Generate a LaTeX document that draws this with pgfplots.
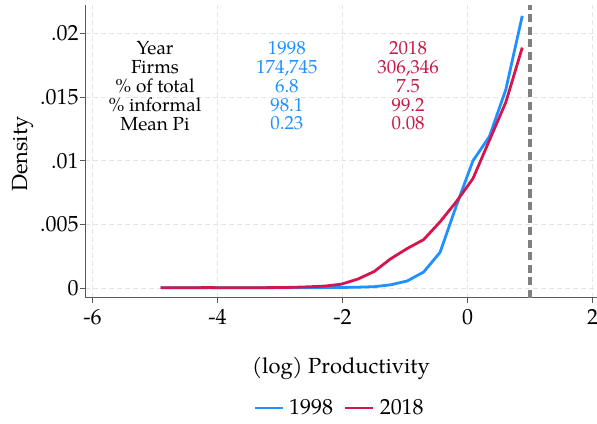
\documentclass[border=0pt]{standalone}
\usepackage{pgfplots}
\pgfplotsset{compat=1.18}
\usepackage{fontspec}
\setmainfont{TeX Gyre Pagella}
\usetikzlibrary{calc}
\definecolor{cblue}{RGB}{30,144,255}
\definecolor{cred}{RGB}{212,22,78}
\definecolor{ctxtred}{RGB}{200,25,70}
\begin{document}
\begin{tikzpicture}
\begin{axis}[
  scale only axis, width=512bp, height=292.5bp,
  xmin=-6.12, xmax=2.072, ymin=-0.00075, ymax=0.02225,
  axis lines=left,
  axis line style={black!65, -, line width=0.8bp},
  tick style={black!65, line width=0.8bp},
  tick align=outside, major tick length=5bp,
  xtick={-6,-4,-2,0,2}, xticklabels={-6,-4,-2,0,2},
  ytick={0,0.005,0.01,0.015,0.02}, yticklabels={0,.005,.01,.015,.02},
  scaled y ticks=false,
  ticklabel style={font=\fontsize{22}{22}\selectfont},
  xticklabel style={yshift=-3bp},
  yticklabel style={xshift=2bp},
  grid=major,
  major grid style={dash pattern=on 5bp off 3bp, black!10, line width=0.8bp},
  xlabel={(log) Productivity},
  ylabel={Density},
  label style={font=\fontsize{22}{22}\selectfont},
  xlabel style={at={(axis description cs:0.5,0)}, anchor=center, yshift=-71bp},
  ylabel style={at={(axis description cs:-0.122,0.49)}, anchor=center},
  legend style={at={(axis description cs:0.5,0)}, anchor=center, yshift=-110.5bp,
    draw=none, fill=none, font=\fontsize{22}{22}\selectfont,
    nodes={inner xsep=5bp},
    /tikz/every even column/.append style={column sep=6bp}},
  legend columns=2,
  legend image code/.code={\draw[#1] (0bp,0bp) -- (28bp,0bp);},
  every axis plot/.append style={line width=2.8bp, line join=round},
]
\addplot[cblue] coordinates {
(-4.910,0.00001) (-4.647,0.00001) (-4.384,0.00001) (-4.121,0.00001)
(-3.858,0.00001) (-3.595,0.00001) (-3.332,0.00001) (-3.069,0.00001)
(-2.806,0.00001) (-2.543,0.00002) (-2.280,0.00003) (-2.017,0.00004)
(-1.754,0.00006) (-1.491,0.00010) (-1.228,0.00025) (-0.965,0.00055)
(-0.702,0.00125) (-0.439,0.00280) (-0.176,0.00650) (0.087,0.01000)
(0.350,0.01190) (0.613,0.01560) (0.876,0.02140)};
\addlegendentry{1998}
\addplot[cred] coordinates {
(-4.910,0.00001) (-4.647,0.00001) (-4.384,0.00002) (-4.121,0.00003)
(-3.858,0.00001) (-3.595,0.00002) (-3.332,0.00002) (-3.069,0.00003)
(-2.806,0.00005) (-2.543,0.00009) (-2.280,0.00015) (-2.017,0.00030)
(-1.754,0.00070) (-1.491,0.00130) (-1.228,0.00230) (-0.965,0.00310)
(-0.702,0.00380) (-0.439,0.00520) (-0.176,0.00680) (0.087,0.00860)
(0.350,0.01160) (0.613,0.01460) (0.876,0.01890)};
\addlegendentry{2018}
\addplot[black!50, line width=3.2bp, dash pattern=on 8bp off 4.5bp, forget plot] coordinates {(1,-0.00075) (1,0.02225)};
\node[align=center, font=\fontsize{19}{19}\selectfont, anchor=center] at (axis cs:-5.0,0.0159)
  {Year\\Firms\\\% of total\\\% informal\\Mean Pi};
\node[align=center, font=\fontsize{19}{19}\selectfont, text=cblue, anchor=center] at (axis cs:-2.89,0.0159)
  {1998\\174,745\\6.8\\98.1\\0.23};
\node[align=center, font=\fontsize{19}{19}\selectfont, text=ctxtred, anchor=center] at (axis cs:-0.95,0.0159)
  {2018\\306,346\\7.5\\99.2\\0.08};
\end{axis}
\pgfresetboundingbox
\path[use as bounding box] ($(current axis.south west)+(-85bp,-126.5bp)$) rectangle ($(current axis.north east)+(0bp,5bp)$);
\end{tikzpicture}
\end{document}
